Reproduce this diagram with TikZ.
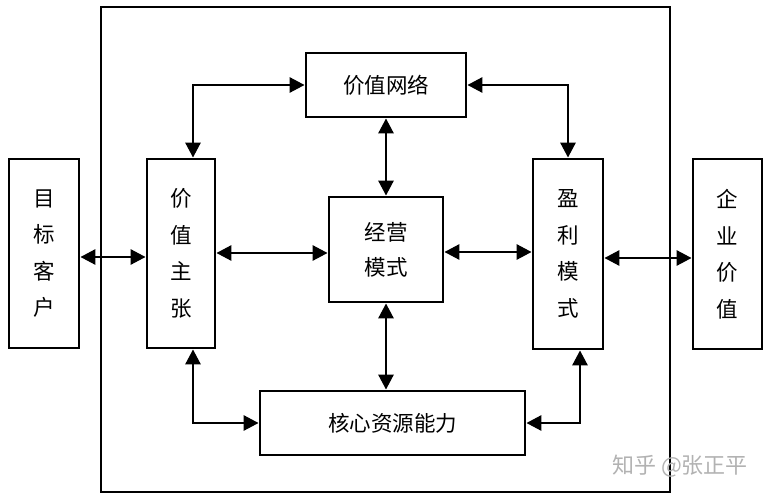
\documentclass[tikz,border=0pt]{standalone}
\usepackage{fontspec}
\newfontfamily\cjk{Noto Sans CJK SC}
\usetikzlibrary{arrows.meta}
\begin{document}
\begin{tikzpicture}[x=1pt,y=-1pt,
  box/.style={draw,line width=2.8pt,inner sep=0pt,align=center,
    font=\cjk\fontsize{21.5}{36.5}\selectfont},
  arr/.style={line width=2.8pt,{Triangle[length=15pt,width=15pt]}-{Triangle[length=15pt,width=15pt]}},
  frame/.style={draw,line width=2.8pt,inner sep=0pt}]
\useasboundingbox (0,0) rectangle (771,500);
\node[frame,minimum width=569pt,minimum height=485pt] (fr) at (385.5,249.5) {};
\node[box,minimum width=70pt,minimum height=189pt] (mb) at (44,253.5) {目\\标\\客\\户};
\node[box,minimum width=68pt,minimum height=189pt] (jz) at (181,253.5) {价\\值\\主\\张};
\node[box,minimum width=160pt,minimum height=64pt] (wl) at (386,85) {价值网络};
\node[box,minimum width=114pt,minimum height=105pt,font=\cjk\fontsize{21.5}{35}\selectfont] (jy) at (386,249.5) {经营\\模式};
\node[box,minimum width=70pt,minimum height=190pt] (yl) at (568,254) {盈\\利\\模\\式};
\node[box,minimum width=69pt,minimum height=190pt] (qy) at (727.5,254) {企\\业\\价\\值};
\node[box,minimum width=265pt,minimum height=64pt] (hx) at (392.5,423) {核心资源能力};
\node[font=\cjk\fontsize{22}{24}\selectfont,text=black!30] (wm) at (680,466) {知乎 @张正平};
\draw[arr] (mb.east |- 0,257) -- (jz.west |- 0,257);
\draw[arr] (jz.east |- 0,253) -- (jy.west |- 0,253);
\draw[arr] (jy.east |- 0,252) -- (yl.west |- 0,252);
\draw[arr] (yl.east |- 0,258) -- (qy.west |- 0,258);
\draw[arr] ([xshift=12pt]jz.north) |- (wl.west);
\draw[arr] (wl.east) -| (yl.north);
\draw[arr] (wl.south) -- (jy.north);
\draw[arr] (jy.south) -- (jy.south |- hx.north);
\draw[arr] ([xshift=12pt]jz.south) |- (hx.west);
\draw[arr] ([xshift=12pt]yl.south) |- (hx.east);
\end{tikzpicture}
\end{document}
